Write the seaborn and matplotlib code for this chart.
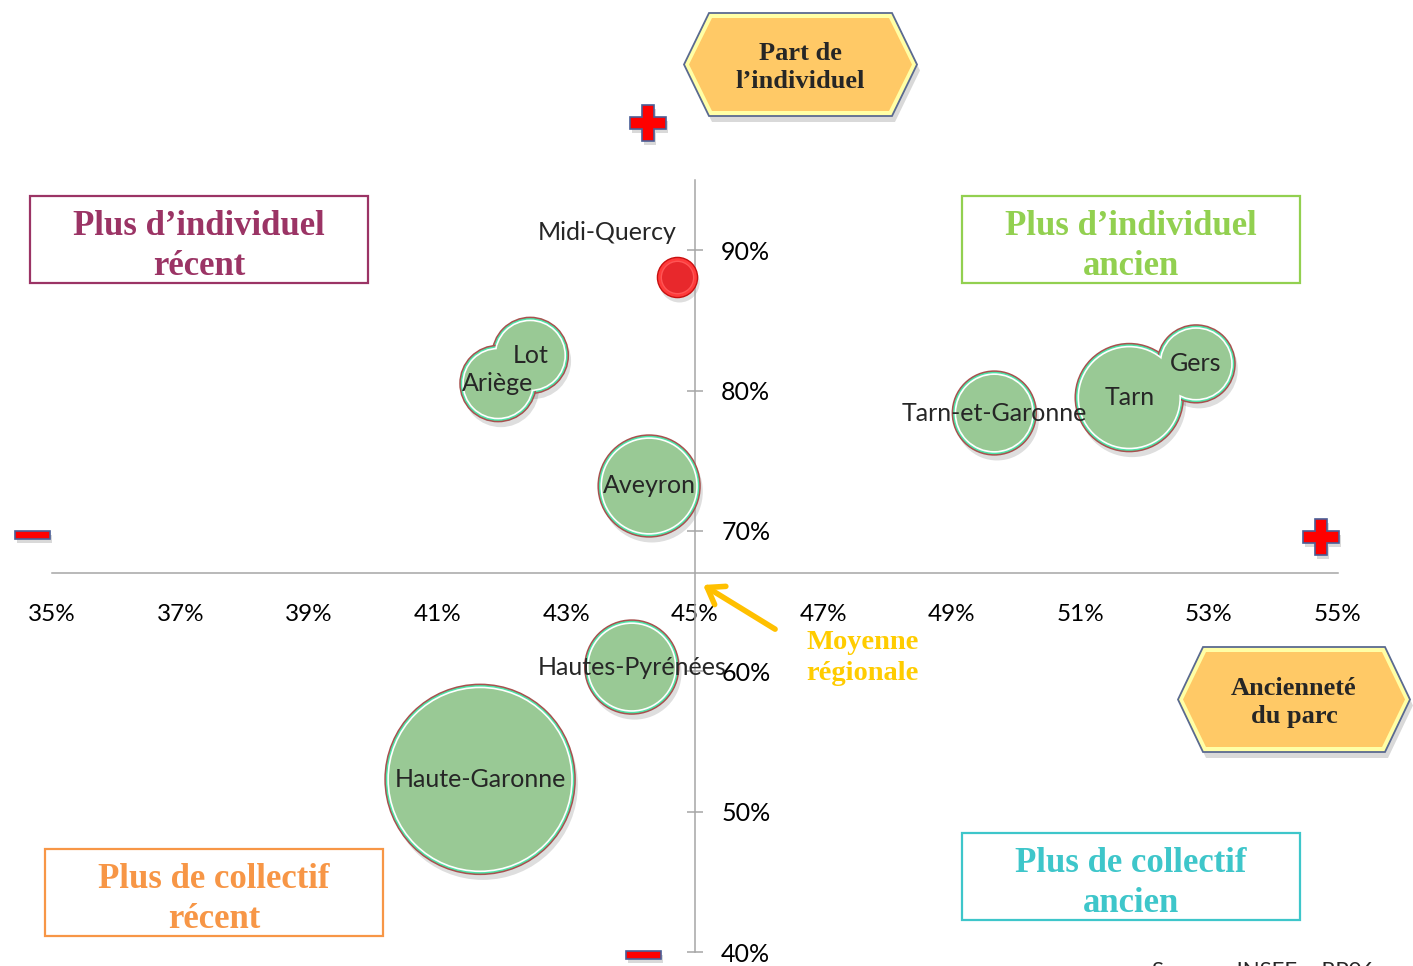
import numpy as np
import pandas as pd
import matplotlib
matplotlib.use('Agg')
import matplotlib.pyplot as plt
import matplotlib.transforms as mtrans
from matplotlib.patches import Polygon, Rectangle
import seaborn as sns

# données
territoires = ['Midi-Quercy', 'Lot', 'Ariège', 'Aveyron', 'Tarn-et-Garonne',
               'Tarn', 'Gers', 'Hautes-Pyrénées', 'Haute-Garonne']
anciennete = [44.72, 42.44, 41.94, 44.29, 49.66, 51.76, 52.80, 44.02, 41.66]   # axe x (%)
part_indiv = [88.1, 82.5, 80.5, 73.2, 78.4, 79.5, 81.9, 60.3, 52.3]            # axe y (%)
logements = [25, 90, 90, 161, 109, 181, 94, 137, 560]                           # taille des bulles

x_ticks = [35, 37, 39, 41, 43, 45, 47, 49, 51, 53, 55]
y_ticks = [40, 50, 60, 70, 80, 90]
moy_x, moy_y = 45, 67   # croisement des axes = moyenne régionale

W, H = 1413, 966

sns.set_theme(style='white')
plt.rcParams['font.family'] = ['Lato', 'DejaVu Sans']

df = pd.DataFrame({'territoire': territoires, 'anciennete': anciennete,
                   'part': part_indiv, 'logements': logements})
# diamètre en points, aire proportionnelle au nombre de logements
diam = 1.44 * 95 * np.sqrt(df['logements'] / max(logements))
df['s_out'] = diam ** 2
df['s_mid'] = (diam - 3.2) ** 2
df['s_in'] = (diam - 5.6) ** 2

fig = plt.figure(figsize=(W / 100, H / 100), dpi=100)
ax = fig.add_axes([52 / W, 1 - 952 / H, 1285.5 / W, (952 - 180) / H])

vert = df[df.territoire != 'Midi-Quercy']
rouge = df[df.territoire == 'Midi-Quercy']

ombre = ax.transData + mtrans.ScaledTranslation(2 / 72, -4 / 72, fig.dpi_scale_trans)
sns.scatterplot(data=df, x='anciennete', y='part', s=df['s_out'].to_numpy(), color='black',
                alpha=0.13, linewidth=0, transform=ombre, legend=False, ax=ax, zorder=2)
# bulles vertes en couches : bord, anneau blanc, remplissage
sns.scatterplot(data=vert, x='anciennete', y='part', s=vert['s_out'].to_numpy(), color='#4FE3A6',
                edgecolor='#A8514F', linewidth=1.1, legend=False, ax=ax, zorder=3)
sns.scatterplot(data=vert, x='anciennete', y='part', s=vert['s_mid'].to_numpy(), color='white',
                linewidth=0, legend=False, ax=ax, zorder=4)
sns.scatterplot(data=vert, x='anciennete', y='part', s=vert['s_in'].to_numpy(), color='#99C995',
                linewidth=0, legend=False, ax=ax, zorder=5)
sns.scatterplot(data=rouge, x='anciennete', y='part', s=rouge['s_out'].to_numpy(), color='#FF3A3A',
                edgecolor='#C81010', linewidth=1.0, legend=False, ax=ax, zorder=3)
sns.scatterplot(data=rouge, x='anciennete', y='part', s=rouge['s_in'].to_numpy(), color='#E8282C',
                edgecolor='#FF5555', linewidth=1.0, legend=False, ax=ax, zorder=5)

for _, r in df.iterrows():
    if r.territoire == 'Midi-Quercy':
        ax.annotate(r.territoire, (r.anciennete, r.part), xytext=(-50, 32),
                    textcoords='offset points', ha='center', va='center', fontsize=18, zorder=6)
    else:
        ax.text(r.anciennete, r.part, r.territoire, ha='center', va='center', fontsize=18, zorder=6)

ax.set_xlim(35, 55)
ax.set_ylim(40, 95)
ax.set_xlabel('')
ax.set_ylabel('')
for s in ['left', 'top']:
    ax.spines[s].set_visible(False)
ax.spines['bottom'].set_position(('data', moy_y))
ax.spines['right'].set_position(('data', moy_x))
for s in ['bottom', 'right']:
    ax.spines[s].set_color('#A6A6A6')
    ax.spines[s].set_linewidth(1.1)
ax.yaxis.tick_right()
ax.set_xticks(x_ticks, labels=[f'{v}%' for v in x_ticks])
ax.set_yticks(y_ticks, labels=[f'{v}%' for v in y_ticks])
ax.tick_params(axis='x', direction='inout', length=14, width=1.1, color='#A6A6A6',
               pad=15, labelsize=17.5, labelcolor='black')
ax.tick_params(axis='y', direction='inout', length=12, width=1.1, color='#A6A6A6',
               pad=13, labelsize=18, labelcolor='black')
ax.patch.set_alpha(0)

# flèche moyenne régionale
ax.annotate('', xy=(45.13, 66.15), xytext=(46.25, 63.0),
            arrowprops=dict(arrowstyle='->,head_length=0.5,head_width=0.35', color='#FFC000',
                            lw=4, mutation_scale=22, shrinkA=0, shrinkB=0), zorder=6)
ax.text(47.61, 60.95, 'Moyenne\nrégionale', ha='center', va='center', color='#FFCC00',
        fontsize=20.5, fontweight='bold', family='Liberation Serif', linespacing=1.3, zorder=6)

# décorations en coordonnées pixel
deco = fig.add_axes([0, 0, 1, 1], zorder=5)
deco.set_xlim(0, W)
deco.set_ylim(H, 0)
deco.axis('off')


def hexa(x0, x1, y0, y1, d):
    ym = (y0 + y1) / 2
    return [(x0, ym), (x0 + d, y0), (x1 - d, y0), (x1, ym), (x1 - d, y1), (x0 + d, y1)]


for (x0, x1, y0, y1), txt in [((684, 917, 13, 116), 'Part de\nl’individuel'),
                              ((1178, 1410, 647, 752), 'Ancienneté\ndu parc')]:
    deco.add_patch(Polygon(hexa(x0 + 3, x1 + 3, y0 + 6, y1 + 6, 25), closed=True,
                           facecolor='black', alpha=0.15, lw=0))
    deco.add_patch(Polygon(hexa(x0, x1, y0, y1, 25), closed=True,
                           facecolor='#FFFFA6', edgecolor='#5A6A90', lw=1.3))
    deco.add_patch(Polygon(hexa(x0 + 5, x1 - 5, y0 + 5, y1 - 5, 23), closed=True,
                           facecolor='#FFC966', lw=0))
    deco.text((x0 + x1) / 2, (y0 + y1) / 2 + 3, txt, ha='center', va='center', fontsize=19,
              fontweight='bold', family='Liberation Serif', linespacing=1.3)

quadrants = [((30, 196, 338, 87), 'Plus d’individuel\nrécent', '#9B3465'),
             ((962, 196, 338, 87), 'Plus d’individuel\nancien', '#92D050'),
             ((45, 849, 338, 87), 'Plus de collectif\nrécent', '#F79646'),
             ((962, 833, 338, 87), 'Plus de collectif\nancien', '#3EC6CA')]
for (x0, y0, w, h), txt, col in quadrants:
    deco.add_patch(Rectangle((x0, y0), w, h, facecolor='none', edgecolor=col, lw=1.6))
    deco.text(x0 + w / 2, y0 + h / 2 + 7, txt, ha='center', va='center', color=col,
              fontsize=25, fontweight='bold', family='Liberation Serif', linespacing=1.3)

# signes + et -
for px, py in [(648, 123), (1321, 537)]:
    deco.plot(px + 2, py + 4, marker='P', ms=26, mfc='black', mew=0, alpha=0.15)
    deco.plot(px, py, marker='P', ms=26, mfc='#FF0000', mec='#4A5E96', mew=1.2)
for px, py in [(15, 531), (626, 951)]:
    deco.add_patch(Rectangle((px + 2, py + 4), 35, 8, facecolor='black', alpha=0.15, lw=0))
    deco.add_patch(Rectangle((px, py), 35, 8, facecolor='#FF0000', edgecolor='#4A5E96', lw=1.2))

fig.text(1152 / W, 1 - 961 / H, 'Source : INSEE – RP06', ha='left', va='top', fontsize=16)

fig.savefig('out.png', dpi=100)
